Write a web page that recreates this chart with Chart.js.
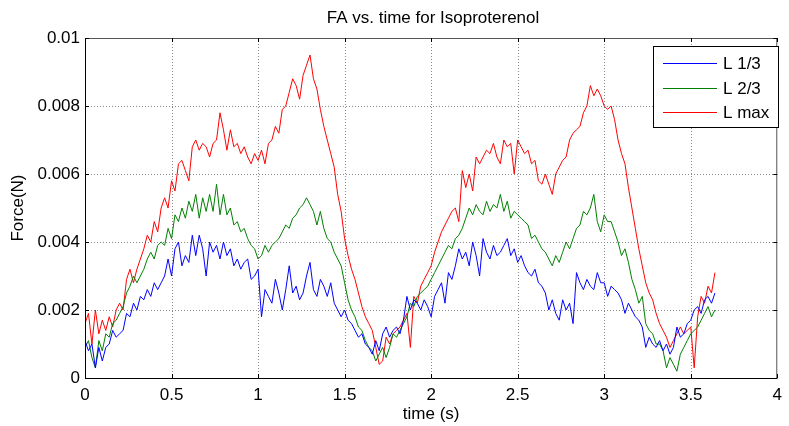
<!DOCTYPE html>
<html>
<head>
<meta charset="utf-8">
<script src="https://cdn.jsdelivr.net/npm/chart.js@4/dist/chart.umd.min.js"></script>
<style>
html,body{margin:0;padding:0;background:#fff;}
#wrap{width:789px;height:426px;}
</style>
</head>
<body>
<div id="wrap"><canvas id="c" width="789" height="426"></canvas></div>
<script>
// time (s)
const time = [0,0.02,0.04,0.06,0.08,0.10,0.12,0.14,0.16,0.18,0.20,0.22,0.24,0.26,0.28,0.30,0.32,0.34,0.36,0.38,
0.40,0.42,0.44,0.46,0.48,0.50,0.52,0.54,0.56,0.58,0.60,0.62,0.64,0.66,0.68,0.70,0.72,0.74,0.76,0.78,
0.80,0.82,0.84,0.86,0.88,0.90,0.92,0.94,0.96,0.98,1.00,1.02,1.04,1.06,1.08,1.10,1.12,1.14,1.16,1.18,
1.20,1.22,1.24,1.26,1.28,1.30,1.32,1.34,1.36,1.38,1.40,1.42,1.44,1.46,1.48,1.50,1.52,1.54,1.56,1.58,
1.60,1.62,1.64,1.66,1.68,1.70,1.72,1.74,1.76,1.78,1.80,1.82,1.84,1.86,1.88,1.90,1.92,1.94,1.96,1.98,
2.00,2.02,2.04,2.06,2.08,2.10,2.12,2.14,2.16,2.18,2.20,2.22,2.24,2.26,2.28,2.30,2.32,2.34,2.36,2.38,
2.40,2.42,2.44,2.46,2.48,2.50,2.52,2.54,2.56,2.58,2.60,2.62,2.64,2.66,2.68,2.70,2.72,2.74,2.76,2.78,
2.80,2.82,2.84,2.86,2.88,2.90,2.92,2.94,2.96,2.98,3.00,3.02,3.04,3.06,3.08,3.10,3.12,3.14,3.16,3.18,
3.20,3.22,3.24,3.26,3.28,3.30,3.32,3.34,3.36,3.38,3.40,3.42,3.44,3.46,3.48,3.50,3.52,3.54,3.56,3.58,
3.60,3.62,3.64];

// Force (N) for L 1/3
const l13 = [0.0011,0.0008,0.0010,0.0003,0.0009,0.0005,0.0009,0.0010,0.0014,0.0012,0.0013,0.0014,0.0019,0.0018,0.0022,0.0020,0.0024,0.0023,0.0026,0.0024,
0.0028,0.0026,0.0028,0.0030,0.0035,0.0030,0.0038,0.0040,0.0033,0.0036,0.0034,0.0042,0.0036,0.0042,0.0038,0.0030,0.0040,0.0037,0.0039,0.0035,
0.0040,0.0036,0.0038,0.0033,0.0035,0.0032,0.0034,0.0035,0.0029,0.0030,0.0032,0.0018,0.0026,0.0024,0.0022,0.0029,0.0025,0.0020,0.0026,0.0033,
0.0025,0.0027,0.0023,0.0025,0.0030,0.0034,0.0026,0.0024,0.0029,0.0027,0.0024,0.0028,0.0022,0.0020,0.0018,0.0020,0.0017,0.0016,0.0014,0.0012,
0.0013,0.0010,0.0009,0.0007,0.0011,0.0008,0.0013,0.0015,0.0012,0.0014,0.0015,0.0013,0.0017,0.0024,0.0020,0.0023,0.0022,0.0020,0.0023,0.0021,
0.0018,0.0024,0.0026,0.0028,0.0022,0.0031,0.0029,0.0033,0.0038,0.0035,0.0037,0.0033,0.0040,0.0036,0.0030,0.0041,0.0037,0.0035,0.0039,0.0036,
0.0037,0.0039,0.0041,0.0036,0.0038,0.0034,0.0036,0.0033,0.0031,0.0030,0.0032,0.0028,0.0027,0.0025,0.0020,0.0023,0.0019,0.0017,0.0023,0.0020,
0.0022,0.0016,0.0031,0.0028,0.0026,0.0029,0.0027,0.0026,0.0031,0.0028,0.0028,0.0024,0.0027,0.0026,0.0025,0.0023,0.0019,0.0022,0.0020,0.0018,
0.0017,0.0015,0.0009,0.0012,0.0010,0.0009,0.0011,0.0008,0.0010,0.0007,0.0009,0.0015,0.0012,0.0013,0.0016,0.0017,0.0020,0.0021,0.0019,0.0023,
0.0024,0.0022,0.0025];

// Force (N) for L 2/3
const l23 = [0.0009,0.0011,0.0006,0.0003,0.0011,0.0008,0.0013,0.0012,0.0016,0.0017,0.0019,0.0021,0.0025,0.0027,0.0030,0.0028,0.0030,0.0032,0.0035,0.0037,
0.0035,0.0039,0.0040,0.0039,0.0044,0.0041,0.0048,0.0046,0.0050,0.0047,0.0052,0.0049,0.0054,0.0047,0.0053,0.0049,0.0054,0.0049,0.0057,0.0048,
0.0054,0.0048,0.0050,0.0045,0.0046,0.0043,0.0044,0.0041,0.0039,0.0038,0.0035,0.0036,0.0039,0.0037,0.0039,0.0040,0.0041,0.0043,0.0045,0.0044,
0.0047,0.0048,0.0050,0.0051,0.0053,0.0051,0.0049,0.0045,0.0049,0.0044,0.0041,0.0040,0.0037,0.0035,0.0033,0.0028,0.0023,0.0020,0.0018,0.0015,
0.0014,0.0011,0.0009,0.0008,0.0005,0.0007,0.0009,0.0006,0.0009,0.0013,0.0012,0.0014,0.0016,0.0018,0.0022,0.0021,0.0024,0.0025,0.0026,0.0027,
0.0029,0.0031,0.0033,0.0035,0.0037,0.0039,0.0038,0.0041,0.0042,0.0044,0.0047,0.0050,0.0048,0.0051,0.0049,0.0048,0.0052,0.0049,0.0051,0.0050,
0.0054,0.0049,0.0052,0.0047,0.0049,0.0048,0.0047,0.0046,0.0045,0.0041,0.0042,0.0040,0.0038,0.0037,0.0035,0.0033,0.0036,0.0034,0.0037,0.0040,
0.0038,0.0041,0.0044,0.0045,0.0049,0.0048,0.0050,0.0054,0.0046,0.0043,0.0048,0.0046,0.0046,0.0043,0.0040,0.0036,0.0038,0.0034,0.0029,0.0026,
0.0022,0.0024,0.0016,0.0014,0.0013,0.0010,0.0010,0.0008,0.0003,0.0006,0.0004,0.0002,0.0007,0.0009,0.0011,0.0013,0.0014,0.0015,0.0017,0.0019,
0.0021,0.0018,0.0020];

// Force (N) for L max
const lmax = [0.0016,0.0019,0.0010,0.0020,0.0013,0.0017,0.0014,0.0018,0.0015,0.0020,0.0022,0.0020,0.0029,0.0032,0.0028,0.0032,0.0035,0.0038,0.0042,0.0040,
0.0046,0.0043,0.0050,0.0053,0.0050,0.0058,0.0055,0.0063,0.0064,0.0061,0.0058,0.0068,0.0070,0.0067,0.0069,0.0068,0.0065,0.0069,0.0070,0.0078,
0.0073,0.0067,0.0073,0.0068,0.0069,0.0066,0.0068,0.0065,0.0063,0.0066,0.0064,0.0067,0.0063,0.0069,0.0070,0.0074,0.0072,0.0079,0.0080,0.0084,
0.0088,0.0086,0.0082,0.0089,0.0092,0.0095,0.0088,0.0085,0.0079,0.0074,0.0070,0.0066,0.0062,0.0054,0.0049,0.0041,0.0036,0.0032,0.0029,0.0025,
0.0021,0.0018,0.0016,0.0014,0.0009,0.0004,0.0005,0.0012,0.0010,0.0013,0.0014,0.0015,0.0017,0.0019,0.0009,0.0024,0.0022,0.0027,0.0029,0.0031,
0.0033,0.0037,0.0040,0.0043,0.0045,0.0047,0.0049,0.0050,0.0046,0.0061,0.0056,0.0060,0.0055,0.0065,0.0063,0.0065,0.0067,0.0066,0.0069,0.0065,
0.0063,0.0070,0.0068,0.0069,0.0060,0.0070,0.0068,0.0066,0.0067,0.0063,0.0064,0.0058,0.0057,0.0060,0.0057,0.0054,0.0060,0.0062,0.0064,0.0065,
0.0070,0.0072,0.0073,0.0074,0.0078,0.0080,0.0086,0.0083,0.0085,0.0083,0.0080,0.0079,0.0080,0.0076,0.0070,0.0066,0.0063,0.0056,0.0050,0.0044,
0.0038,0.0033,0.0028,0.0025,0.0023,0.0019,0.0016,0.0014,0.0012,0.0009,0.0011,0.0013,0.0015,0.0013,0.0014,0.0015,0.0003,0.0018,0.0024,0.0022,
0.0027,0.0025,0.0031];

const seriesNames = ['L 1/3', 'L 2/3', 'L max'];
const seriesColors = ['#0000ff', '#008000', '#ff0000'];
const xTicks = [0, 0.5, 1, 1.5, 2, 2.5, 3, 3.5, 4];
const yTicks = [0, 0.002, 0.004, 0.006, 0.008, 0.01];
const titleText = 'FA vs. time for Isoproterenol';

const FONT = 'Arial, "Liberation Sans", Helvetica, sans-serif';
const FS = 17;

function pts(vals) { return vals.map((v, i) => ({ x: time[i], y: v })); }

const decor = {
  id: 'decor',
  beforeDatasetsDraw(chart) {
    const { ctx, chartArea: a, scales: { x, y } } = chart;
    ctx.save();
    ctx.strokeStyle = '#8a8a8a';
    ctx.lineWidth = 1;
    ctx.setLineDash([1, 2]);
    xTicks.forEach(v => {
      if (v <= 0 || v >= 4) return;
      const px = Math.round(x.getPixelForValue(v)) + 0.5;
      ctx.beginPath(); ctx.moveTo(px, a.top); ctx.lineTo(px, a.bottom); ctx.stroke();
    });
    yTicks.forEach(v => {
      if (v <= 0) return;
      const py = Math.round(y.getPixelForValue(v)) + 0.5;
      ctx.beginPath(); ctx.moveTo(a.left, py); ctx.lineTo(a.right, py); ctx.stroke();
    });
    ctx.restore();
  },
  afterDatasetsDraw(chart) {
    const { ctx, chartArea: a, scales: { x, y } } = chart;
    ctx.save();
    ctx.strokeStyle = '#000';
    ctx.lineWidth = 1;
    ctx.beginPath();
    ctx.moveTo(a.left + 0.5, a.top); ctx.lineTo(a.left + 0.5, a.bottom + 0.5); ctx.lineTo(a.right, a.bottom + 0.5);
    ctx.stroke();
    ctx.strokeStyle = '#555';
    ctx.beginPath();
    ctx.moveTo(a.left, a.top + 0.5); ctx.lineTo(a.right - 0.5, a.top + 0.5); ctx.lineTo(a.right - 0.5, a.bottom);
    ctx.stroke();
    ctx.strokeStyle = '#000';
    const tl = 4;
    xTicks.forEach(v => {
      const px = Math.round(x.getPixelForValue(v)) + 0.5;
      ctx.beginPath(); ctx.moveTo(px, a.bottom); ctx.lineTo(px, a.bottom - tl); ctx.stroke();
      ctx.beginPath(); ctx.moveTo(px, a.top); ctx.lineTo(px, a.top + tl); ctx.stroke();
    });
    yTicks.forEach(v => {
      const py = Math.round(y.getPixelForValue(v)) + 0.5;
      ctx.beginPath(); ctx.moveTo(a.left, py); ctx.lineTo(a.left + tl, py); ctx.stroke();
      ctx.beginPath(); ctx.moveTo(a.right, py); ctx.lineTo(a.right - tl, py); ctx.stroke();
    });
    // legend
    const lx = 653, ly = 46, lw = 125, lh = 81;
    ctx.fillStyle = '#fff';
    ctx.fillRect(lx, ly, lw, lh);
    ctx.strokeStyle = '#000';
    ctx.strokeRect(lx + 0.5, ly + 0.5, lw, lh);
    const rows = [63, 88, 112];
    ctx.font = FS + 'px ' + FONT;
    ctx.textBaseline = 'middle';
    ctx.textAlign = 'left';
    seriesNames.forEach((n, i) => {
      ctx.strokeStyle = seriesColors[i];
      ctx.beginPath(); ctx.moveTo(663, rows[i] + 0.5); ctx.lineTo(717, rows[i] + 0.5); ctx.stroke();
      ctx.fillStyle = '#000';
      ctx.fillText(n, 723, rows[i] + 1);
    });
    // title
    ctx.font = FS + 'px ' + FONT;
    ctx.textAlign = 'center';
    ctx.fillText(titleText, 433, 18);
    ctx.restore();
  }
};

new Chart(document.getElementById('c'), {
  type: 'line',
  data: {
    datasets: [
      { label: seriesNames[0], data: pts(l13), borderColor: seriesColors[0] },
      { label: seriesNames[1], data: pts(l23), borderColor: seriesColors[1] },
      { label: seriesNames[2], data: pts(lmax), borderColor: seriesColors[2] }
    ].map(d => Object.assign(d, { borderWidth: 1, pointRadius: 0, tension: 0, fill: false }))
  },
  options: {
    responsive: false,
    animation: false,
    events: [],
    layout: { padding: { top: 38, right: 3, left: 0, bottom: 0 } },
    plugins: { legend: { display: false }, tooltip: { enabled: false }, title: { display: false } },
    scales: {
      x: {
        type: 'linear', min: 0, max: 4,
        afterBuildTicks(s) { s.ticks = xTicks.map(v => ({ value: v })); },
        afterFit(s) { s.height = 48; },
        grid: { display: false, drawTicks: false },
        border: { display: false },
        ticks: { color: '#000', font: { family: FONT, size: FS }, padding: 7, maxRotation: 0,
          callback: v => String(v) },
        title: { display: true, text: 'time (s)', color: '#000', font: { family: FONT, size: FS }, padding: { top: 0, bottom: 1 } }
      },
      y: {
        type: 'linear', min: 0, max: 0.01,
        afterBuildTicks(s) { s.ticks = yTicks.map(v => ({ value: v })); },
        afterFit(s) { s.width = 85; },
        grid: { display: false, drawTicks: false },
        border: { display: false },
        ticks: { color: '#000', font: { family: FONT, size: FS }, padding: 5,
          callback: v => String(v) },
        title: { display: true, text: 'Force(N)', color: '#000', font: { family: FONT, size: FS }, padding: { top: 8, bottom: 0 } }
      }
    }
  },
  plugins: [decor]
});
</script>
</body>
</html>
